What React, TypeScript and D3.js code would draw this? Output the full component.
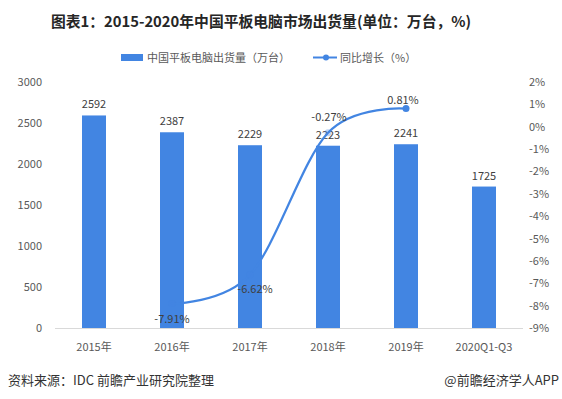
import React from "react";
import * as d3 from "d3";

const categories = ["2015年", "2016年", "2017年", "2018年", "2019年", "2020Q1-Q3"];
const shipments = [2592, 2387, 2229, 2223, 2241, 1725];
const growthCats = ["2016年", "2017年", "2018年", "2019年"];
const growth = [-7.91, -6.62, -0.27, 0.81];
const leftTicks = [0, 500, 1000, 1500, 2000, 2500, 3000];
const rightTicks = [2, 1, 0, -1, -2, -3, -4, -5, -6, -7, -8, -9];

const W = 562;
const H = 399;
const FONT = "'Noto Sans CJK SC', 'Noto Sans', sans-serif";
const BLUE = "#4285E2";

export default function App() {
  const x = d3.scaleBand<string>().domain(categories).range([55, 523]).paddingInner(0).paddingOuter(0);
  const yL = d3.scaleLinear().domain([0, 3000]).range([328, 82]);
  const yR = d3.scaleLinear().domain([-9, 2]).range([328, 82]);
  const barW = 24;
  const cx = (c: string) => (x(c) as number) + x.bandwidth() / 2;

  const pts: [number, number][] = growthCats.map((c, i) => [cx(c), yR(growth[i])]);
  const line = d3.line<[number, number]>().curve(d3.curveCardinal.tension(0))(pts) || "";

  const labelOffsets = [
    { dx: 0, dy: 19 },
    { dx: 5, dy: 18 },
    { dx: 1, dy: -12 },
    { dx: -3, dy: -5 },
  ];

  return (
    <svg width={W} height={H} style={{ position: "absolute", left: 0, top: 0, background: "#fff" }} fontFamily={FONT}>
      <rect width={W} height={H} fill="#fff" />
      <text x={261} y={27} textAnchor="middle" fontSize={14.8} fontWeight="bold" fill="#262626">
        图表1：2015-2020年中国平板电脑市场出货量(单位：万台，%)
      </text>
      {/* legend */}
      <rect x={121} y={54} width={22} height={7} fill={BLUE} />
      <text x={147} y={61.5} fontSize={11} fill="#595959">中国平板电脑出货量（万台）</text>
      <line x1={313} x2={337} y1={57.5} y2={57.5} stroke={BLUE} strokeWidth={2} />
      <circle cx={326} cy={57.5} r={3} fill={BLUE} />
      <text x={340} y={61.5} fontSize={11} fill="#595959">同比增长（%）</text>

      {/* left axis */}
      {leftTicks.map((t) => (
        <text key={"l" + t} x={42} y={yL(t) + 4} textAnchor="end" fontSize={11} fill="#595959">{t}</text>
      ))}
      {rightTicks.map((t) => (
        <text key={"r" + t} x={529} y={yR(t) + 4} textAnchor="start" fontSize={11} fill="#595959">{t + "%"}</text>
      ))}

      {/* bars */}
      {categories.map((c, i) => (
        <g key={c}>
          <rect x={cx(c) - barW / 2} y={yL(shipments[i])} width={barW} height={328 - yL(shipments[i])} fill={BLUE} />
          <text x={cx(c)} y={yL(shipments[i]) - 7} textAnchor="middle" fontSize={11} fill="#404040">{shipments[i]}</text>
          <text x={cx(c)} y={351} textAnchor="middle" fontSize={11} fill="#595959">{c}</text>
        </g>
      ))}
      <line x1={55} x2={523} y1={328.5} y2={328.5} stroke="#d9d9d9" strokeWidth={1} />

      {/* growth line */}
      <path d={line} fill="none" stroke={BLUE} strokeWidth={2.2} strokeLinecap="round" />
      {pts.map((p, i) => (
        <circle key={"m" + i} cx={p[0]} cy={p[1]} r={3.5} fill={BLUE} opacity={i === 3 ? 1 : 0.35} />
      ))}
      {pts.map((p, i) => (
        <text key={"g" + i} x={p[0] + labelOffsets[i].dx} y={p[1] + labelOffsets[i].dy} textAnchor="middle" fontSize={11} fill="#404040">
          {growth[i].toFixed(2) + "%"}
        </text>
      ))}

      {/* footer */}
      <text x={8} y={385} fontSize={13} fill="#333">资料来源：IDC 前瞻产业研究院整理</text>
      <text x={559} y={385} textAnchor="end" fontSize={13} fill="#333">@前瞻经济学人APP</text>
    </svg>
  );
}
